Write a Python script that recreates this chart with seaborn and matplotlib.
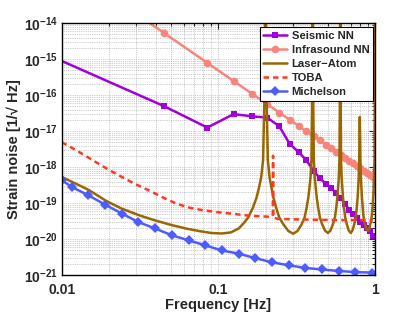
import numpy as np
import matplotlib
matplotlib.use("Agg")
import matplotlib.pyplot as plt
import seaborn as sns
from matplotlib.ticker import (LogLocator, NullFormatter, FixedLocator, FixedFormatter,
                               LogFormatterSciNotation)

# ---- data ----
nn_freq = [0.01, 0.045, 0.085, 0.125, 0.165, 0.205, 0.245, 0.285, 0.325, 0.365,
           0.405, 0.445, 0.485, 0.525, 0.565, 0.605, 0.645, 0.685, 0.725, 0.765,
           0.805, 0.845, 0.885, 0.925, 0.965]
seismic_nn = [9.0e-16, 5.0e-17, 1.27e-17, 3.0e-17, 2.6e-17, 2.4e-17, 1.38e-17, 4.5e-18,
              2.66e-18, 1.56e-18, 8.1e-19, 4.9e-19, 3.5e-19, 2.7e-19, 1.9e-19, 1.39e-19,
              9.5e-20, 6.7e-20, 5.0e-20, 3.8e-20, 3.0e-20, 2.5e-20, 2.1e-20, 1.7e-20, 1.24e-20]
infrasound_nn = [4.9e-13, 5.4e-15, 8.0e-16, 2.5e-16, 1.09e-16, 5.7e-17, 3.3e-17, 2.1e-17,
                 1.43e-17, 1.0e-17, 7.4e-18, 5.6e-18, 4.3e-18, 3.4e-18, 2.7e-18, 2.2e-18,
                 1.82e-18, 1.52e-18, 1.29e-18, 1.09e-18, 9.4e-19, 8.1e-19, 7.1e-19, 6.2e-19, 5.4e-19]

laser_freq = [0.01, 0.0125, 0.015, 0.019, 0.024, 0.031, 0.039, 0.05, 0.062, 0.075, 0.09, 0.105,
              0.12, 0.135, 0.145, 0.155, 0.166, 0.175, 0.182, 0.188, 0.193, 0.197, 0.2,
              0.203, 0.207, 0.212, 0.218, 0.225, 0.234, 0.245, 0.26, 0.28, 0.3,
              0.32, 0.34, 0.355, 0.366, 0.375, 0.382, 0.388, 0.393, 0.397, 0.4,
              0.403, 0.407, 0.412, 0.418, 0.425, 0.434, 0.445, 0.46, 0.48, 0.5,
              0.52, 0.54, 0.555, 0.566, 0.575, 0.582, 0.588, 0.593, 0.597, 0.6,
              0.603, 0.607, 0.612, 0.618, 0.625, 0.634, 0.645, 0.66, 0.68, 0.7,
              0.72, 0.74, 0.755, 0.766, 0.775, 0.782, 0.788, 0.793, 0.797, 0.8,
              0.803, 0.807, 0.812, 0.818, 0.825, 0.834, 0.845, 0.86, 0.88, 0.9,
              0.92, 0.94, 0.955, 0.966, 0.975, 0.982, 0.988, 0.993, 0.997, 1.0]
laser_atom = [5.4e-19, 3.4e-19, 2.3e-19, 1.2e-19, 7.2e-20, 4.7e-20, 3.4e-20, 2.5e-20, 2.0e-20, 1.7e-20, 1.5e-20, 1.45e-20,
              1.55e-20, 2.0e-20, 2.8e-20, 4.0e-20, 7.5e-20, 1.4e-19, 2.8e-19, 5.5e-19, 1.6e-18, 1.0e-16, 1.0e-12,
              1.0e-16, 1.6e-18, 5.5e-19, 2.8e-19, 1.4e-19, 7.5e-20, 4.0e-20, 2.6e-20, 1.7e-20, 1.43e-20,
              1.7e-20, 2.6e-20, 4.0e-20, 7.5e-20, 1.4e-19, 2.8e-19, 5.5e-19, 1.6e-18, 1.0e-16, 1.0e-12,
              1.0e-16, 1.6e-18, 5.5e-19, 2.8e-19, 1.4e-19, 7.5e-20, 4.0e-20, 2.6e-20, 1.75e-20, 1.5e-20,
              1.75e-20, 2.7e-20, 4.1e-20, 7.7e-20, 1.45e-19, 2.9e-19, 5.6e-19, 1.6e-18, 1.0e-16, 1.0e-12,
              1.0e-16, 1.6e-18, 5.6e-19, 2.9e-19, 1.45e-19, 7.7e-20, 4.1e-20, 2.7e-20, 1.75e-20, 1.5e-20,
              1.8e-20, 2.8e-20, 4.3e-20, 8.0e-20, 1.5e-19, 3.0e-19, 5.8e-19, 1.7e-18, 8.0e-18, 2.5e-17,
              8.0e-18, 1.7e-18, 5.8e-19, 3.0e-19, 1.5e-19, 8.0e-20, 4.3e-20, 2.8e-20, 1.95e-20, 1.7e-20,
              2.0e-20, 3.0e-20, 4.6e-20, 8.5e-20, 1.6e-19, 3.2e-19, 6.0e-19, 1.8e-18, 1.0e-16, 1.0e-12]

toba_freq = [0.01, 0.0125, 0.015, 0.0175, 0.02, 0.025, 0.03, 0.0375, 0.045, 0.055, 0.066, 0.08,
             0.0975, 0.12, 0.145, 0.175, 0.2, 0.213, 0.2225, 0.2235, 0.2245, 0.24, 0.3, 0.4,
             0.5, 0.6, 0.7, 0.8, 0.9, 0.97]
toba = [5.0e-18, 2.9e-18, 1.8e-18, 1.2e-18, 8.5e-19, 5.0e-19, 3.3e-19, 2.1e-19, 1.4e-19, 9.5e-20, 7.5e-20, 6.4e-20,
        5.7e-20, 5.2e-20, 4.7e-20, 4.4e-20, 4.3e-20, 4.2e-20, 4.5e-20, 2.1e-18, 4.0e-20, 3.7e-20, 3.6e-20, 3.5e-20,
        3.45e-20, 3.4e-20, 3.4e-20, 3.4e-20, 3.4e-20, 3.4e-20]

mich_freq = [0.01, 0.0116, 0.0148, 0.0189, 0.0242, 0.0309, 0.0395, 0.0505, 0.0645, 0.0824, 0.105,
             0.135, 0.172, 0.220, 0.281, 0.359, 0.459, 0.587, 0.750, 0.958]
michelson = [4.4e-19, 2.84e-19, 1.67e-19, 9.2e-20, 5.2e-20, 3.0e-20, 2.0e-20, 1.29e-20, 9.4e-21, 6.8e-21, 4.9e-21,
             4.0e-21, 3.0e-21, 2.3e-21, 1.9e-21, 1.6e-21, 1.45e-21, 1.32e-21, 1.23e-21, 1.19e-21]

x_ticks = [0.01, 0.1, 1]
x_tick_labels = ['0.01', '0.1', '1']
y_ticks = [1e-21, 1e-20, 1e-19, 1e-18, 1e-17, 1e-16, 1e-15, 1e-14]

# ---- style ----
sns.set_style("white")
plt.rcParams['font.family'] = ['Liberation Sans', 'DejaVu Sans']
plt.rcParams['font.weight'] = 'bold'
plt.rcParams['mathtext.fontset'] = 'custom'
plt.rcParams['mathtext.rm'] = 'Liberation Sans:bold'
plt.rcParams['mathtext.bf'] = 'Liberation Sans:bold'
plt.rcParams['mathtext.default'] = 'bf'

fig = plt.figure(figsize=(4.15, 3.12), dpi=100)
ax = fig.add_axes([0.1487, 0.1176, 0.7549, 0.8077])
ax.set_xscale('log')
ax.set_yscale('log')

lw = 1.8
sns.lineplot(x=nn_freq, y=seismic_nn, ax=ax, color='#A100DA', lw=lw, marker='s',
             markersize=5, markeredgewidth=0, markevery=slice(1, None), label='Seismic NN', sort=False)
sns.lineplot(x=nn_freq, y=infrasound_nn, ax=ax, color='#F8857C', lw=lw, marker='o',
             markersize=5.5, markeredgewidth=0, markevery=slice(1, None), label='Infrasound NN', sort=False)
sns.lineplot(x=laser_freq, y=laser_atom, ax=ax, color='#996600', lw=lw, label='Laser\u2212Atom', sort=False)
sns.lineplot(x=toba_freq, y=toba, ax=ax, color='#FF3A1F', lw=lw, label='TOBA', sort=False)
ax.lines[-1].set_dashes((2.2, 1.6))
sns.lineplot(x=mich_freq, y=michelson, ax=ax, color='#4D5CFF', lw=lw, marker='D',
             markersize=5.5, markeredgewidth=0, label='Michelson', sort=False)

ax.set_xlim(0.01, 1)
ax.set_ylim(1e-21, 1e-14)

ax.xaxis.set_major_locator(FixedLocator(x_ticks))
ax.xaxis.set_major_formatter(FixedFormatter(x_tick_labels))
ax.xaxis.set_minor_locator(LogLocator(base=10, subs=np.arange(2, 10), numticks=100))
ax.xaxis.set_minor_formatter(NullFormatter())
ax.yaxis.set_major_locator(FixedLocator(y_ticks))
ax.yaxis.set_major_formatter(LogFormatterSciNotation())
ax.yaxis.set_minor_locator(LogLocator(base=10, subs=np.arange(2, 10), numticks=100))
ax.yaxis.set_minor_formatter(NullFormatter())

ax.tick_params(which='both', direction='in', top=True, right=True, width=0.8)
ax.tick_params(which='major', length=4, labelsize=10)
ax.tick_params(axis='x', which='major', pad=5.5)
ax.tick_params(axis='y', which='major', pad=3)
ax.tick_params(which='minor', length=2)
ax.grid(True, which='both', ls=':', color='0.62', lw=0.5)
for s in ax.spines.values():
    s.set_linewidth(1.0)
    s.set_color('black')

ax.set_xlabel('Frequency [Hz]', fontsize=10.5, fontweight='bold', labelpad=1)
ax.set_ylabel('Strain noise [1/\u221a Hz]', fontsize=10.5, fontweight='bold', labelpad=2)

leg = ax.legend(loc='upper right', bbox_to_anchor=(0.9946, 0.9865), fontsize=8.1, frameon=True,
                fancybox=False, edgecolor='black', handlelength=2.1, handletextpad=0.4,
                borderpad=0.35, labelspacing=0.36, borderaxespad=0.0, framealpha=1)
leg.get_frame().set_linewidth(0.8)
for t in leg.get_texts():
    t.set_fontweight('bold')

fig.savefig('out.png', dpi=100)
